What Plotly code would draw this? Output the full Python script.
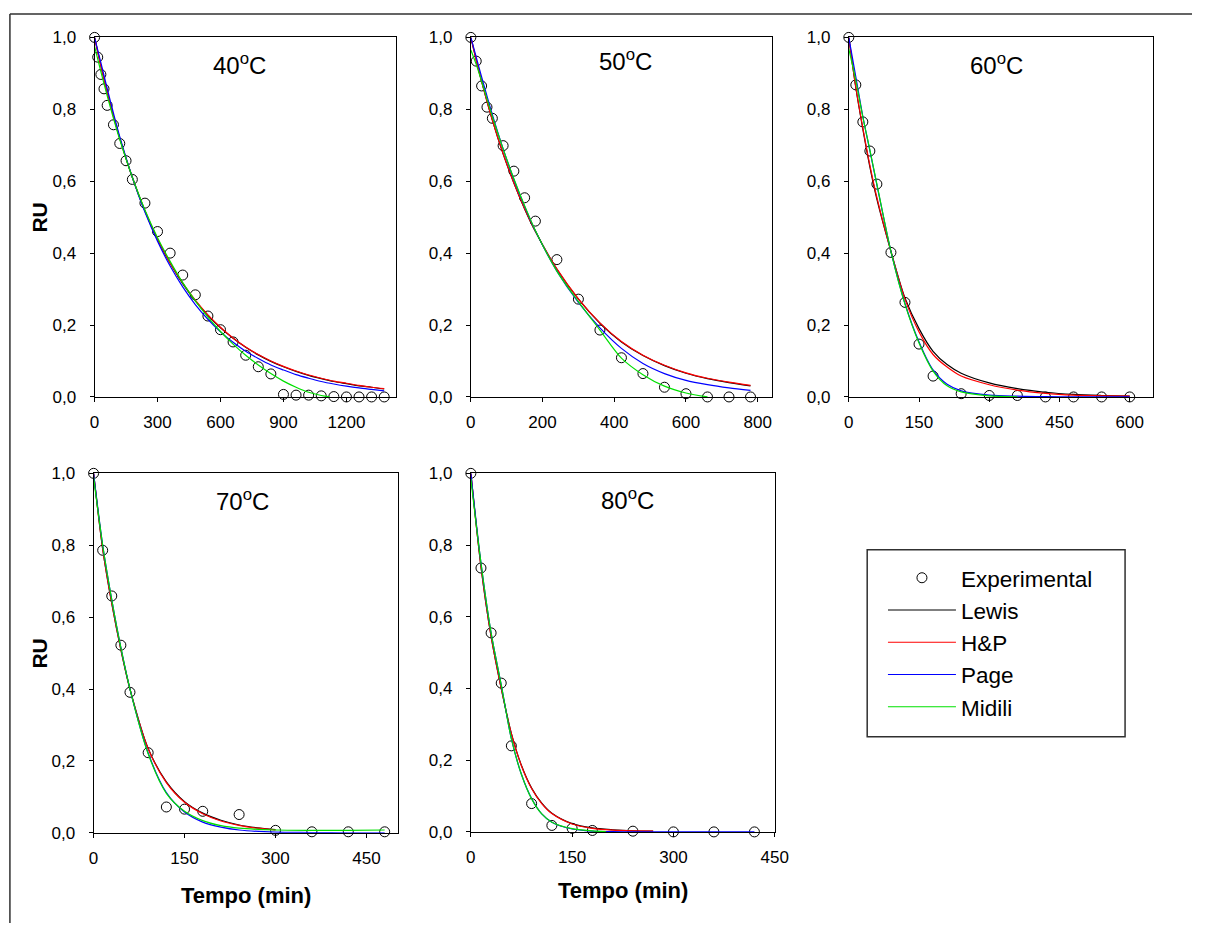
import plotly.graph_objects as go

W, H = 1206, 933

# ---------------- data ----------------
temps = ["40", "50", "60", "70", "80"]
series_names = ["Experimental", "Lewis", "H&P", "Page", "Midili"]
model_colors = ["#000000", "#ff0000", "#0000ff", "#00e000"]

# experimental points (time in min, RU)
t40 = [0, 15, 30, 45, 60, 90, 120, 150, 180, 240, 300, 360, 420, 480, 540, 600, 660, 720, 780, 840, 900, 960, 1020, 1080, 1140, 1200, 1260, 1320, 1380]
ru40 = [1.0, 0.945, 0.897, 0.857, 0.811, 0.757, 0.705, 0.657, 0.605, 0.539, 0.46, 0.40, 0.339, 0.284, 0.225, 0.187, 0.153, 0.116, 0.084, 0.064, 0.007, 0.005, 0.005, 0.003, 0.001, 0.0, 0.0, 0.0, 0.0]
t50 = [0, 15, 30, 45, 60, 90, 120, 150, 180, 240, 300, 360, 420, 480, 540, 600, 660, 720, 780]
ru50 = [1.0, 0.934, 0.865, 0.806, 0.775, 0.699, 0.628, 0.554, 0.489, 0.382, 0.272, 0.186, 0.109, 0.065, 0.027, 0.009, 0.0, 0.0, 0.0]
t60 = [0, 15, 30, 45, 60, 90, 120, 150, 180, 240, 300, 360, 420, 480, 540, 600]
ru60 = [1.0, 0.868, 0.765, 0.684, 0.592, 0.402, 0.263, 0.147, 0.058, 0.009, 0.004, 0.004, 0.0, 0.0, 0.0, 0.0]
t70 = [0, 15, 30, 45, 60, 90, 120, 150, 180, 240, 300, 360, 420, 480]
ru70 = [1.0, 0.786, 0.659, 0.522, 0.391, 0.223, 0.072, 0.066, 0.06, 0.051, 0.007, 0.003, 0.003, 0.003]
t80 = [0, 15, 30, 45, 60, 90, 120, 150, 180, 240, 300, 360, 420]
ru80 = [1.0, 0.736, 0.555, 0.415, 0.24, 0.079, 0.018, 0.01, 0.004, 0.002, 0.0, 0.0, 0.0]

# model curves
tm40 = [0, 30, 60, 90, 120, 180, 240, 300, 360, 420, 480, 540, 600, 660, 720, 780, 840, 900, 960, 1020, 1080, 1140, 1200, 1260, 1320, 1380]
lewis40 = [1.0, 0.921, 0.848, 0.781, 0.719, 0.610, 0.517, 0.438, 0.372, 0.315, 0.267, 0.227, 0.192, 0.163, 0.138, 0.117, 0.099, 0.084, 0.071, 0.060, 0.051, 0.043, 0.037, 0.031, 0.027, 0.022]
hp40 = [1.0, 0.921, 0.849, 0.782, 0.720, 0.611, 0.518, 0.440, 0.373, 0.317, 0.269, 0.228, 0.194, 0.164, 0.139, 0.118, 0.100, 0.085, 0.072, 0.061, 0.052, 0.044, 0.038, 0.032, 0.027, 0.023]
page40 = [1.0, 0.93, 0.858, 0.789, 0.724, 0.611, 0.514, 0.433, 0.364, 0.306, 0.257, 0.216, 0.181, 0.152, 0.127, 0.107, 0.089, 0.075, 0.062, 0.052, 0.043, 0.036, 0.030, 0.025, 0.021, 0.017]
tmid40 = [0, 30, 60, 90, 120, 180, 240, 300, 360, 420, 480, 540, 600, 660, 720, 780, 840, 900, 960, 1020, 1080, 1120]
midili40 = [0.975, 0.905, 0.838, 0.775, 0.716, 0.611, 0.52, 0.443, 0.377, 0.318, 0.267, 0.222, 0.182, 0.147, 0.116, 0.089, 0.065, 0.044, 0.027, 0.013, 0.004, 0.0]

tm50 = [0, 15, 30, 60, 90, 120, 150, 180, 240, 300, 360, 420, 480, 540, 600, 660, 720, 780]
lewis50 = [1.0, 0.937, 0.878, 0.77, 0.676, 0.595, 0.523, 0.46, 0.355, 0.272, 0.205, 0.153, 0.115, 0.087, 0.066, 0.051, 0.040, 0.031]
hp50 = [1.0, 0.937, 0.878, 0.77, 0.677, 0.596, 0.524, 0.461, 0.356, 0.273, 0.206, 0.154, 0.116, 0.088, 0.067, 0.052, 0.041, 0.032]
page50 = [1.0, 0.945, 0.89, 0.785, 0.69, 0.605, 0.53, 0.462, 0.35, 0.263, 0.192, 0.135, 0.093, 0.065, 0.046, 0.034, 0.025, 0.018]
tmid50 = [0, 15, 30, 60, 90, 120, 150, 180, 240, 300, 360, 420, 480, 540, 600, 660]
midili50 = [0.965, 0.925, 0.878, 0.78, 0.69, 0.607, 0.532, 0.463, 0.35, 0.265, 0.186, 0.108, 0.062, 0.03, 0.011, 0.0]

tm60 = [0, 15, 30, 45, 60, 90, 120, 150, 180, 210, 240, 300, 360, 420, 480, 540, 600]
lewis60 = [1.0, 0.86, 0.745, 0.64, 0.55, 0.405, 0.275, 0.19, 0.127, 0.09, 0.066, 0.039, 0.023, 0.013, 0.007, 0.004, 0.002]
hp60 = [1.0, 0.862, 0.748, 0.645, 0.555, 0.405, 0.272, 0.181, 0.118, 0.083, 0.058, 0.034, 0.019, 0.01, 0.005, 0.003, 0.002]
page60 = [1.0, 0.89, 0.78, 0.685, 0.59, 0.405, 0.26, 0.153, 0.075, 0.035, 0.017, 0.005, 0.002, 0.001, 0.0, 0.0, 0.0]
tmid60 = [0, 15, 30, 45, 60, 90, 120, 150, 180, 210, 240, 300, 360]
midili60 = [0.968, 0.88, 0.778, 0.687, 0.592, 0.405, 0.258, 0.15, 0.072, 0.031, 0.014, 0.003, 0.0]

tm70 = [0, 15, 30, 45, 60, 90, 120, 150, 180, 210, 240, 270, 300]
lewis70 = [1.0, 0.79, 0.638, 0.51, 0.40, 0.235, 0.142, 0.087, 0.055, 0.035, 0.022, 0.014, 0.009]
hp70 = [1.0, 0.79, 0.638, 0.51, 0.40, 0.234, 0.14, 0.085, 0.053, 0.033, 0.021, 0.013, 0.008]
tpm70 = [0, 15, 30, 45, 60, 90, 120, 150, 180, 210, 240, 300, 360, 420, 480]
page70 = [1.0, 0.80, 0.648, 0.515, 0.40, 0.222, 0.112, 0.058, 0.03, 0.016, 0.008, 0.002, 0.001, 0.0, 0.0]
midili70 = [0.99, 0.80, 0.648, 0.515, 0.40, 0.22, 0.11, 0.06, 0.034, 0.02, 0.013, 0.008, 0.007, 0.007, 0.008]

tm80 = [0, 15, 30, 45, 60, 75, 90, 105, 120, 150, 180, 210, 240, 270]
lewis80 = [1.0, 0.74, 0.545, 0.40, 0.275, 0.185, 0.122, 0.08, 0.052, 0.023, 0.011, 0.006, 0.003, 0.002]
hp80 = [1.0, 0.74, 0.545, 0.40, 0.274, 0.184, 0.121, 0.079, 0.051, 0.022, 0.01, 0.005, 0.003, 0.002]
tpm80 = [0, 15, 30, 45, 60, 75, 90, 105, 120, 150, 180, 210, 240, 300, 360, 420]
page80 = [1.0, 0.75, 0.555, 0.41, 0.26, 0.16, 0.093, 0.05, 0.027, 0.008, 0.002, 0.0005, 0.0, 0.0, 0.0, 0.0]
tmid80 = [0, 15, 30, 45, 60, 75, 90, 105, 120, 150, 180, 200]
midili80 = [0.985, 0.75, 0.555, 0.41, 0.26, 0.16, 0.092, 0.05, 0.027, 0.009, 0.003, 0.001]

x_ticks = [[0, 300, 600, 900, 1200], [0, 200, 400, 600, 800], [0, 150, 300, 450, 600], [0, 150, 300, 450], [0, 150, 300, 450]]
x_ranges = [[0, 1435], [0, 840], [0, 650], [0, 502], [0, 450]]
y_ticks = [0, 0.2, 0.4, 0.6, 0.8, 1.0]

panels = [
    dict(exp=(t40, ru40), models=[(tm40, lewis40), (tm40, hp40), (tm40, page40), (tmid40, midili40)]),
    dict(exp=(t50, ru50), models=[(tm50, lewis50), (tm50, hp50), (tm50, page50), (tmid50, midili50)]),
    dict(exp=(t60, ru60), models=[(tm60, lewis60), (tm60, hp60), (tm60, page60), (tmid60, midili60)]),
    dict(exp=(t70, ru70), models=[(tm70, lewis70), (tm70, hp70), (tpm70, page70), (tpm70, midili70)]),
    dict(exp=(t80, ru80), models=[(tm80, lewis80), (tm80, hp80), (tpm80, page80), (tmid80, midili80)]),
]

# ---------------- layout geometry (pixels) ----------------
panel_px = [  # left, right, top, bottom
    (91, 397, 29, 396),
    (473.3, 779.3, 29, 396),
    (857.3, 1166.5, 29, 396),
    (90, 399.3, 474, 841),
    (473.3, 782, 474, 840),
]
title_px = [(238, 56), (630, 52), (1007, 56), (241, 501), (632, 500)]

def px(x):
    return x / W

def py(y):
    return 1 - y / H

FONT = "Liberation Sans, Arial, sans-serif"

fig = go.Figure()

for i, p in enumerate(panels):
    ax = "" if i == 0 else str(i + 1)
    xr, yr = "x" + ax, "y" + ax
    ex, ey = p["exp"]
    fig.add_trace(go.Scatter(
        x=ex, y=ey, mode="markers", name=series_names[0], legendgroup="exp",
        showlegend=(i == 0), xaxis=xr, yaxis=yr, cliponaxis=False,
        marker=dict(symbol="circle-open", size=10, color="black", line=dict(width=1, color="black")),
    ))
    for j, (mx, my) in enumerate(p["models"]):
        fig.add_trace(go.Scatter(
            x=mx, y=my, mode="lines", name=series_names[j + 1], legendgroup=series_names[j + 1],
            showlegend=(i == 0), xaxis=xr, yaxis=yr,
            line=dict(color=model_colors[j], width=1.2, shape="spline", smoothing=0.8),
        ))

axis_common = dict(
    showline=True, linecolor="black", linewidth=1, mirror=True,
    ticks="outside", ticklen=4, tickcolor="black", tickwidth=1,
    showgrid=False, zeroline=False,
    tickfont=dict(family=FONT, size=17, color="black"),
)

layout = dict(
    width=W, height=H,
    margin=dict(l=0, r=0, t=0, b=0),
    paper_bgcolor="white", plot_bgcolor="white",
    separators=",.",
    font=dict(family=FONT, color="black"),
    showlegend=True,
    legend=dict(
        x=px(892), y=py(559), xanchor="left", yanchor="top",
        font=dict(family=FONT, size=22.5, color="black"),
        bgcolor="rgba(0,0,0,0)", borderwidth=0, tracegroupgap=0,
        traceorder="normal", itemwidth=68,
    ),
)

for i in range(5):
    ax = "" if i == 0 else str(i + 1)
    l, r, t, b = panel_px[i]
    layout["xaxis" + ax] = dict(
        axis_common, domain=[px(l), px(r)], range=x_ranges[i],
        tickvals=x_ticks[i], tickformat="d", anchor="y" + ax, ticklabelstandoff=6,
    )
    layout["yaxis" + ax] = dict(
        axis_common, domain=[py(b), py(t)], range=[0, 1],
        tickvals=y_ticks, tickformat=".1f", anchor="x" + ax, ticklabelstandoff=10,
    )

annotations = []
for i, tt in enumerate(temps):
    x, y = title_px[i]
    annotations.append(dict(
        text=tt + "<sup>o</sup>C", x=px(x), y=py(y), xref="paper", yref="paper",
        xanchor="center", yanchor="middle", showarrow=False,
        font=dict(family=FONT, size=24, color="black"),
    ))
for (x, y) in [(35, 212.5), (35, 657.5)]:
    annotations.append(dict(
        text="RU", x=px(x), y=py(y), xref="paper", yref="paper", textangle=-90,
        xanchor="center", yanchor="middle", showarrow=False,
        font=dict(family=FONT, size=21, color="black", weight="bold"),
    ))
for (x, y) in [(245, 905), (628, 900)]:
    annotations.append(dict(
        text="Tempo (min)", x=px(x), y=py(y), xref="paper", yref="paper",
        xanchor="center", yanchor="middle", showarrow=False,
        font=dict(family=FONT, size=22, color="black", weight="bold"),
    ))
layout["annotations"] = annotations

layout["shapes"] = [
    dict(type="rect", xref="paper", yref="paper", x0=px(876), x1=px(1138), y0=py(743), y1=py(552),
         line=dict(color="#303030", width=1.5), fillcolor="rgba(0,0,0,0)"),
    dict(type="line", xref="paper", yref="paper", x0=px(5), x1=1, y0=py(5), y1=py(5),
         line=dict(color="#303030", width=1.5)),
    dict(type="line", xref="paper", yref="paper", x0=px(5), x1=px(5), y0=py(5), y1=0,
         line=dict(color="#303030", width=1.5)),
]

fig.update_layout(**layout)
fig.write_html(
    "out.html",
    config={"displayModeBar": False, "responsive": False},
    post_script="document.documentElement.style.margin='0';document.body.style.margin='0';"
                "document.body.style.padding='0';document.body.style.overflow='hidden';",
)
